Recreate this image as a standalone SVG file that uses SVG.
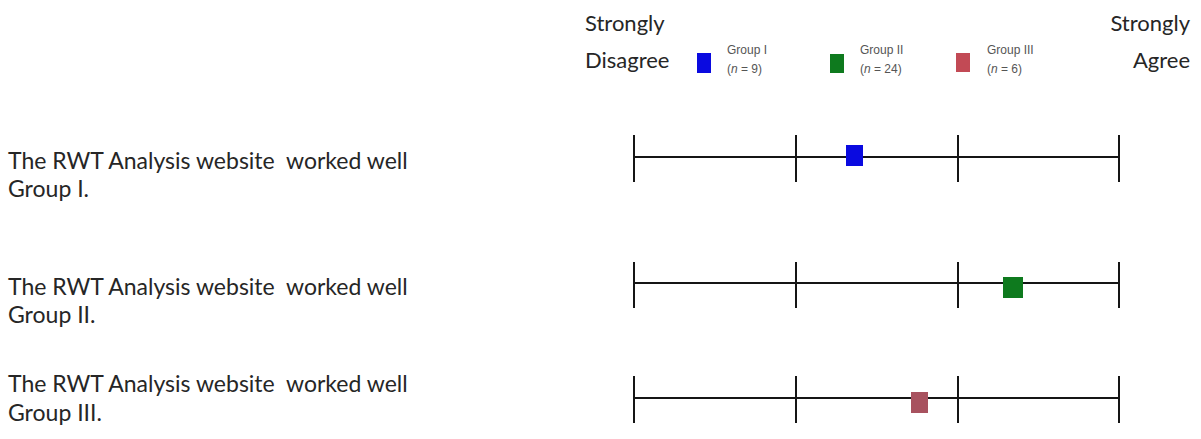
<svg xmlns="http://www.w3.org/2000/svg" width="1201" height="439" viewBox="0 0 1201 439">
<style>
.lbl{font-family:Lato,"Open Sans","Liberation Sans",sans-serif;font-size:23px;fill:#262626;white-space:pre}
.hdr{font-family:Lato,"Open Sans","Liberation Sans",sans-serif;font-size:22px;fill:#262626}
.leg{font-family:"Liberation Sans",Arial,sans-serif;font-size:12px;fill:#555}
.axis{stroke:#151515;stroke-width:2;fill:none}
.blue{fill:#0a0ae0}
.green{fill:#0e7a1e}
.red{fill:#a8525f}
</style>
<rect width="1201" height="439" fill="#ffffff"/>
<g id="header">
<text class="hdr" x="585" y="31">Strongly</text>
<text class="hdr" x="585" y="68">Disagree</text>
<text class="hdr" x="1190" y="31" text-anchor="end">Strongly</text>
<text class="hdr" x="1190" y="68" text-anchor="end">Agree</text>
</g>
<g id="legend">
<rect class="blue" x="697" y="53" width="14" height="20"/>
<text class="leg" x="727" y="54">Group I</text>
<text class="leg" x="727" y="73">(<tspan font-style="italic">n</tspan> = 9)</text>
<rect class="green" x="830" y="54" width="14" height="19"/>
<text class="leg" x="860" y="54">Group II</text>
<text class="leg" x="860" y="73">(<tspan font-style="italic">n</tspan> = 24)</text>
<rect x="956" y="53" width="14" height="19" fill="#c24a55"/>
<text class="leg" x="987" y="54">Group III</text>
<text class="leg" x="987" y="73">(<tspan font-style="italic">n</tspan> = 6)</text>
</g>
<g id="row1">
<text class="lbl" x="8" y="169" xml:space="preserve">The RWT Analysis website  worked well</text>
<text class="lbl" x="8" y="197">Group I.</text>
</g>
<g id="row2">
<text class="lbl" x="8" y="295" xml:space="preserve">The RWT Analysis website  worked well</text>
<text class="lbl" x="8" y="323">Group II.</text>
</g>
<g id="row3">
<text class="lbl" x="8" y="392" xml:space="preserve">The RWT Analysis website  worked well</text>
<text class="lbl" x="8" y="421">Group III.</text>
</g>
<g id="connectors">
<path class="axis" d="M634 157H1119M634 135V182M796 135V182M958 135V182M1119 135V182"/>
<path class="axis" d="M634 283H1119M634 262V308M796 262V308M958 262V308M1119 262V308"/>
<path class="axis" d="M634 398H1119M634 376V423M796 376V423M958 376V423M1119 376V423"/>
</g>
<g id="markers">
<rect id="m1" class="blue" x="846" y="145" width="17" height="21"/>
<rect id="m2" class="green" x="1003" y="277" width="20" height="21"/>
<rect id="m3" class="red" x="911" y="392" width="17" height="21"/>
</g>
</svg>
